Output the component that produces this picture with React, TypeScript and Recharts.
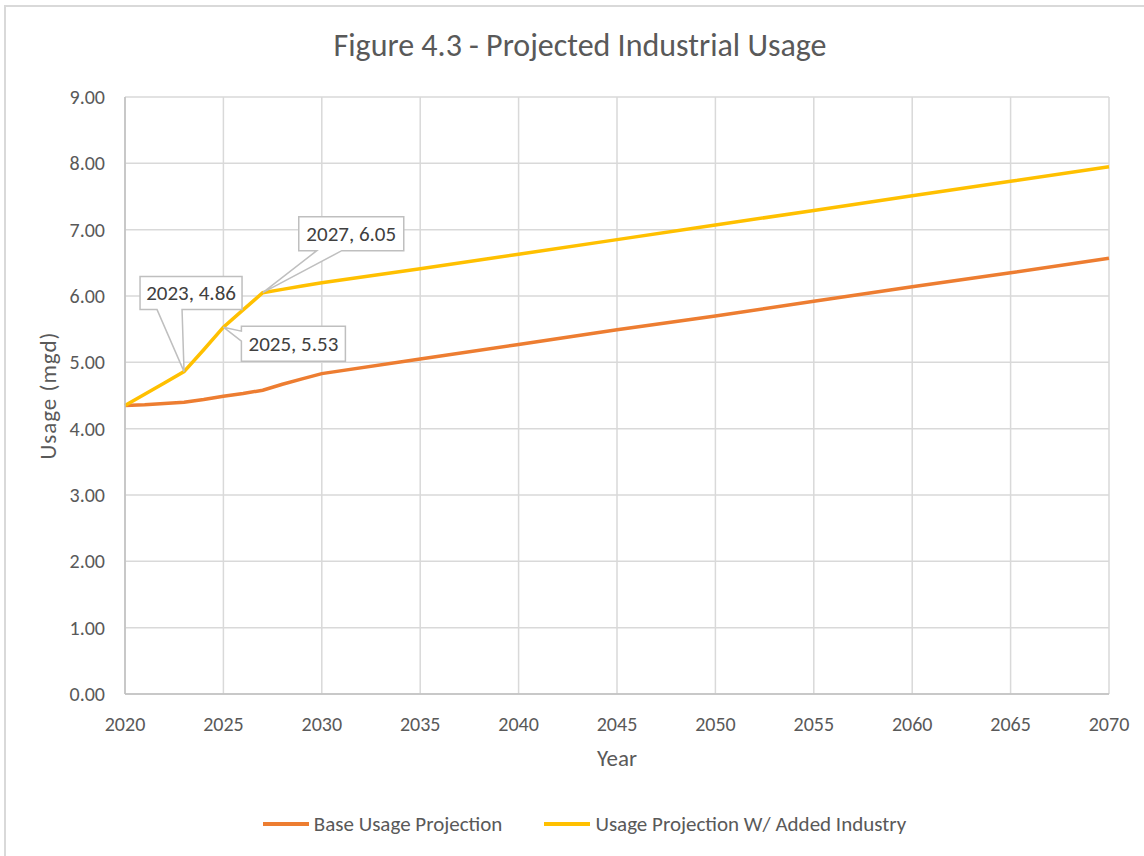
import { LineChart, Line, XAxis, YAxis, CartesianGrid, Legend } from 'recharts'

const years = [2020, 2021, 2022, 2023, 2024, 2025, 2026, 2027, 2028, 2029, 2030, 2035, 2040, 2045, 2050, 2055, 2060, 2065, 2070]
const baseUsage = [4.35, 4.36, 4.38, 4.4, 4.44, 4.49, 4.53, 4.58, 4.67, 4.75, 4.83, 5.05, 5.27, 5.49, 5.7, 5.92, 6.14, 6.35, 6.57]
const addedIndustry = [4.35, 4.52, 4.69, 4.86, 5.19, 5.53, 5.79, 6.05, 6.1, 6.15, 6.2, 6.41, 6.63, 6.85, 7.07, 7.29, 7.51, 7.73, 7.95]
const xTicks = [2020, 2025, 2030, 2035, 2040, 2045, 2050, 2055, 2060, 2065, 2070]
const yTicks = [0, 1, 2, 3, 4, 5, 6, 7, 8, 9]
const seriesNames = ['Base Usage Projection', 'Usage Projection W/ Added Industry']
const labeledYears = [2023, 2025, 2027]

const FONT = "Carlito, 'Liberation Sans Narrow', 'DejaVu Sans Condensed', 'Open Sans', sans-serif"
const TEXT = '#595959'
const ORANGE = '#ED7D31'
const YELLOW = '#FFC000'

// box offsets relative to the labelled point, plus where the pointer leaves the box
const calloutLayout: Record<number, { l: number; r: number; t: number; b: number; side: 'bottom' | 'left'; p1: number; p2: number }> = {
  2023: { l: -44, r: 58, t: -95, b: -62, side: 'bottom', p1: -27, p2: -2 },
  2025: { l: 18, r: 122, t: -1, b: 34, side: 'left', p1: 4, p2: 14 },
  2027: { l: 36, r: 141, t: -76, b: -42, side: 'bottom', p1: 54, p2: 79 },
}

const chartData = years.map((year, i) => ({
  year,
  base: baseUsage[i],
  added: addedIndustry[i],
}))

function Callout(props: any) {
  const { x, y, index, value } = props
  const year = years[index]
  if (!labeledYears.includes(year)) return null
  const c = calloutLayout[year]
  const L = x + c.l
  const R = x + c.r
  const T = y + c.t
  const B = y + c.b
  let d = ''
  if (c.side === 'bottom') {
    d = `M${L},${T} H${R} V${B} H${x + c.p2} L${x},${y} L${x + c.p1},${B} H${L} Z`
  } else {
    d = `M${L},${T} H${R} V${B} H${L} V${y + c.p2} L${x},${y} L${L},${y + c.p1} Z`
  }
  return (
    <g>
      <path d={d} fill="#fff" stroke="#bfbfbf" strokeWidth={1.5} />
      <text
        x={(L + R) / 2}
        y={(T + B) / 2}
        dy="0.35em"
        textAnchor="middle"
        fontSize={21}
        fontFamily={FONT}
        fill="#404040"
      >
        {`${year}, ${Number(value).toFixed(2)}`}
      </text>
    </g>
  )
}

function LegendContent() {
  const colors = [ORANGE, YELLOW]
  return (
    <div style={{ height: 92, display: 'flex', justifyContent: 'center', alignItems: 'flex-start', paddingTop: 47, boxSizing: 'border-box', paddingLeft: 60 }}>
      {seriesNames.map((name, i) => (
        <div key={name} style={{ display: 'flex', alignItems: 'center', marginRight: i === 0 ? 42 : 0 }}>
          <div style={{ width: 46, height: 4, background: colors[i], marginRight: 5 }} />
          <span style={{ fontFamily: FONT, fontSize: 21, color: TEXT }}>{name}</span>
        </div>
      ))}
    </div>
  )
}

export default function App() {
  return (
    <div style={{ position: 'absolute', left: 0, top: 0, width: 1144, height: 856, background: '#fff', overflow: 'hidden' }}>
      <div style={{ position: 'absolute', left: 4, top: 5, width: 1140, height: 851, borderTop: '2px solid #d9d9d9', borderLeft: '2px solid #d9d9d9', boxSizing: 'border-box' }} />
      <div style={{ position: 'absolute', left: 0, top: 26, width: 1160, textAlign: 'center', fontFamily: FONT, fontSize: 32, color: TEXT }}>
        Figure 4.3 - Projected Industrial Usage
      </div>
      <div style={{ position: 'absolute', left: 0, top: 0 }}>
        <LineChart width={1144} height={856} data={chartData} margin={{ top: 97, right: 35, bottom: 0, left: 0 }}>
          <CartesianGrid stroke="#d9d9d9" strokeWidth={1.5} />
          <XAxis
            dataKey="year"
            type="number"
            domain={[2020, 2070]}
            ticks={xTicks}
            height={70}
            tickLine={false}
            tickSize={0}
            tickMargin={23}
            stroke="#bfbfbf"
            strokeWidth={1.5}
            tick={{ fill: TEXT, fontSize: 20, fontFamily: FONT }}
            label={{ value: 'Year', position: 'insideBottom', offset: 0, dy: 2, fill: TEXT, fontSize: 23, fontFamily: FONT }}
          />
          <YAxis
            type="number"
            domain={[0, 9]}
            ticks={yTicks}
            width={125}
            tickLine={false}
            tickSize={0}
            tickMargin={20}
            stroke="#bfbfbf"
            strokeWidth={1.5}
            tickFormatter={(v: number) => v.toFixed(2)}
            tick={{ fill: TEXT, fontSize: 20, fontFamily: FONT }}
            label={{ value: 'Usage (mgd)', angle: -90, position: 'insideLeft', offset: 0, dx: 48, fill: TEXT, fontSize: 23, fontFamily: FONT, style: { textAnchor: 'middle', letterSpacing: 1 } }}
          />
          <Legend verticalAlign="bottom" height={92} content={<LegendContent />} />
          <Line
            type="linear"
            dataKey="base"
            name={seriesNames[0]}
            stroke={ORANGE}
            strokeWidth={3.5}
            dot={false}
            isAnimationActive={false}
          />
          <Line
            type="linear"
            dataKey="added"
            name={seriesNames[1]}
            stroke={YELLOW}
            strokeWidth={3.5}
            dot={false}
            label={<Callout />}
            isAnimationActive={false}
          />
        </LineChart>
      </div>
    </div>
  )
}
